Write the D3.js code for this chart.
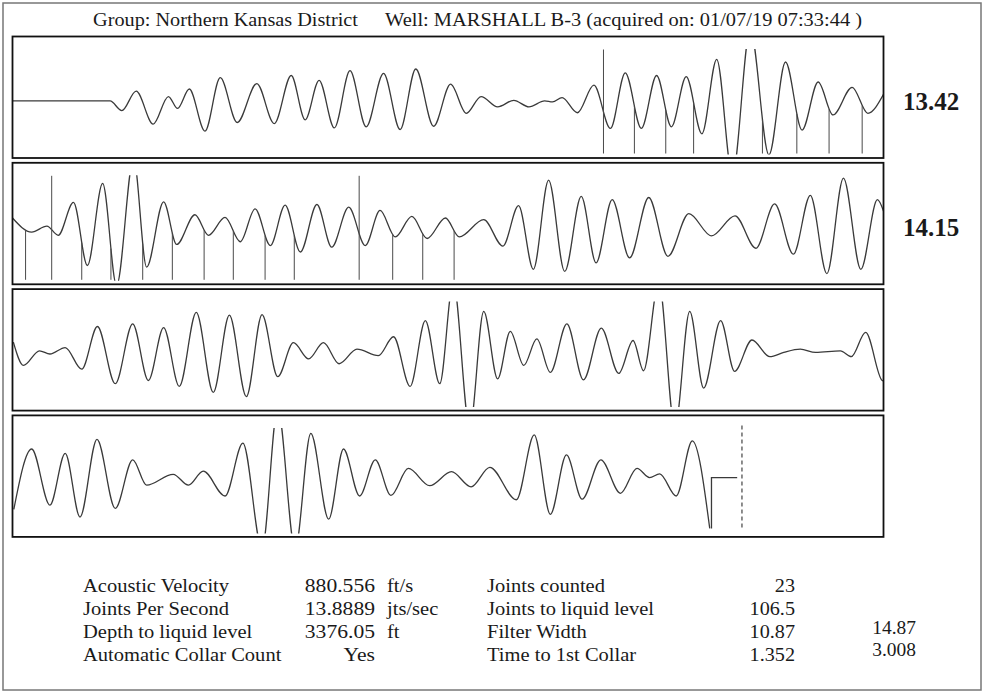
<!DOCTYPE html>
<html>
<head>
<meta charset="utf-8">
<script src="https://cdn.jsdelivr.net/npm/d3@7/dist/d3.min.js"></script>
<style>
    body { margin: 0; background: #fff; }
    svg { display: block; }
    text { font-family: "Liberation Serif", "Times New Roman", serif; fill: #1a1a1a; }
</style>
</head>
<body>
<script>
// header
var headerParts = ["Group: Northern Kansas District", "Well: MARSHALL B-3 (acquired on: 01/07/19 07:33:44 )"];

// rate labels shown right of the first two panels
var panelRates = ["13.42", "14.15"];

// wave traces, [time (s), amplitude] -- one panel = 2 seconds
var wave1 = [[0, 0.03], [0.224, 0.03], [0.251, -0.15], [0.284, 0.21], [0.323, -0.40], [0.358, 0.11], [0.379, -0.11],
    [0.406, 0.25], [0.442, -0.53], [0.477, 0.46], [0.516, -0.37], [0.561, 0.35], [0.601, -0.39], [0.640, 0.50],
    [0.672, -0.32], [0.704, 0.41], [0.739, -0.47], [0.775, 0.59], [0.812, -0.45], [0.852, 0.54], [0.890, -0.50],
    [0.926, 0.62], [0.967, -0.44], [1.006, 0.34], [1.042, -0.20], [1.076, 0.11], [1.114, -0.08], [1.151, 0.04],
    [1.186, -0.08], [1.222, 0.03], [1.240, 0.01], [1.262, 0.09], [1.297, -0.19], [1.335, 0.32], [1.373, -0.48],
    [1.407, 0.55], [1.444, -0.48], [1.479, 0.50], [1.513, -0.45], [1.547, 0.48], [1.583, -0.58], [1.617, 0.80],
    [1.653, -1.35], [1.694, 1.35], [1.737, -0.97], [1.775, 0.75], [1.813, -0.51], [1.850, 0.38], [1.884, -0.23],
    [1.928, 0.28], [1.964, -0.20], [2.0, 0.15]];

var wave2 = [[2.0, 0.20], [2.044, -0.06], [2.079, 0.05], [2.105, -0.12], [2.140, 0.49], [2.172, -0.68], [2.207, 0.84],
    [2.239, -1.05], [2.278, 1.30], [2.308, -0.71], [2.347, 0.50], [2.377, -0.29], [2.419, 0.26], [2.450, -0.12],
    [2.488, 0.21], [2.523, -0.24], [2.557, 0.37], [2.592, -0.31], [2.626, 0.44], [2.661, -0.43], [2.699, 0.45],
    [2.733, -0.34], [2.772, 0.40], [2.810, -0.31], [2.844, 0.34], [2.879, -0.15], [2.917, 0.23], [2.952, -0.18],
    [2.994, 0.20], [3.026, -0.15], [3.082, 0.17], [3.126, -0.32], [3.162, 0.43], [3.196, -0.75], [3.231, 0.90],
    [3.268, -0.79], [3.306, 0.60], [3.340, -0.63], [3.377, 0.54], [3.417, -0.54], [3.461, 0.58], [3.505, -0.51],
    [3.553, 0.28], [3.605, -0.13], [3.659, 0.24], [3.707, -0.36], [3.750, 0.46], [3.793, -0.47], [3.832, 0.62],
    [3.870, -0.83], [3.908, 0.94], [3.948, -0.75], [3.986, 0.54], [4.0, 0.33]];

var wave3 = [[4.002, 0.24], [4.025, -0.19], [4.062, 0.08], [4.086, 0.02], [4.121, 0.14], [4.159, -0.26], [4.195, 0.53],
    [4.236, -0.53], [4.276, 0.58], [4.312, -0.47], [4.347, 0.51], [4.383, -0.58], [4.422, 0.79], [4.461, -0.69],
    [4.498, 0.74], [4.537, -0.77], [4.573, 0.75], [4.609, -0.40], [4.645, 0.23], [4.680, -0.07], [4.714, 0.23],
    [4.750, -0.16], [4.791, 0.11], [4.840, -0.01], [4.875, 0.34], [4.913, -0.58], [4.948, 0.64], [4.981, -0.53],
    [5.012, 1.35], [5.050, -1.35], [5.082, 0.81], [5.114, -0.44], [5.143, 0.44], [5.174, -0.19], [5.204, 0.30],
    [5.235, -0.32], [5.273, 0.58], [5.311, -0.46], [5.352, 0.50], [5.392, -0.34], [5.425, 0.27], [5.449, -0.29],
    [5.484, 1.35], [5.521, -1.35], [5.555, 0.81], [5.587, -0.61], [5.626, 0.64], [5.658, -0.30], [5.698, 0.28],
    [5.739, -0.03], [5.771, 0.05], [5.809, 0.11], [5.844, 0.05], [5.901, 0.08], [5.926, -0.03], [5.959, 0.42],
    [5.997, -0.47], [6.0, -0.48]];

var wave4 = [[6.003, -0.52], [6.044, 0.60], [6.086, -0.44], [6.121, 0.52], [6.155, -0.66], [6.194, 0.78], [6.236, -0.50],
    [6.276, 0.40], [6.308, -0.07], [6.369, 0.13], [6.404, -0.07], [6.438, 0.19], [6.488, -0.27], [6.529, 0.71],
    [6.573, -1.25], [6.609, 1.35], [6.649, -1.25], [6.685, 0.89], [6.726, -0.70], [6.760, 0.60], [6.797, -0.27],
    [6.833, 0.40], [6.869, -0.26], [6.909, 0.24], [6.958, -0.08], [7.008, 0.18], [7.053, -0.10], [7.096, 0.26],
    [7.157, -0.34], [7.198, 0.86], [7.235, -0.61], [7.272, 0.49], [7.308, -0.33], [7.351, 0.40], [7.396, -0.22],
    [7.434, 0.24], [7.463, 0.07], [7.486, 0.14], [7.524, -0.27], [7.561, 0.75], [7.601, -0.87]];

// end-of-trace step marker and liquid level (s)
var endStep = [[7.605, -0.87], [7.605, 0.07], [7.664, 0.07]];
var liquidLevelTime = 7.675;

// detected collars (s); tall = marker spans the whole trace area
var collarTimes = [1.357, 1.428, 1.500, 1.564, 1.643, 1.722, 1.801, 1.875, 1.951,
    2.030, 2.090, 2.159, 2.226, 2.299, 2.367, 2.440, 2.507, 2.580, 2.647, 2.796, 2.873, 2.942, 3.014];
var collarTall = [1, 0, 0, 0, 0, 0, 0, 0, 0,
    0, 1, 0, 0, 0, 0, 0, 0, 0, 0, 1, 0, 0, 0];

// summary table
var leftLabels = ["Acoustic Velocity", "Joints Per Second", "Depth to liquid level", "Automatic Collar Count"];
var leftValues = ["880.556", "13.8889", "3376.05", "Yes"];
var leftUnits = ["ft/s", "jts/sec", "ft", ""];
var rightLabels = ["Joints counted", "Joints to liquid level", "Filter Width", "Time to 1st Collar"];
var rightValues = ["23", "106.5", "10.87", "1.352"];
var extraValues = ["", "", "14.87", "3.008"];

var waves = [wave1, wave2, wave3, wave4];

// y of a path at screen x (trace is monotone in x), by bisecting on length
function pathYAt(node, px) {
    var lo = 0, hi = node.getTotalLength();
    for (var k = 0; k < 30; k++) {
        var mid = (lo + hi) / 2;
        if (node.getPointAtLength(mid).x < px) lo = mid; else hi = mid;
    }
    return node.getPointAtLength(lo).y;
}

function drawChart() {
    var w = 984, h = 697;
    var panel = {left: 12.5, right: 883.5, top: 36.5, pitch: 126.3, height: 121.5, clipTop: 12.5, clipBottom: 118};
    var secondsPerPanel = 2;

    var svg = d3.select("body").append("svg")
        .attr("width", w)
        .attr("height", h);

    // outer frame
    svg.append("rect")
        .attr("x", 3).attr("y", 3)
        .attr("width", 978).attr("height", 687)
        .attr("fill", "none")
        .attr("stroke", "#777")
        .attr("stroke-width", 1.5);

    // header
    var headerX = [93, 385], headerW = [265, 477];
    svg.selectAll(".header")
        .data(headerParts)
        .enter()
        .append("text")
        .classed("header", true)
        .attr("x", function (d, i) { return headerX[i]; })
        .attr("y", 26)
        .attr("font-size", 18.5)
        .attr("textLength", function (d, i) { return headerW[i]; })
        .attr("lengthAdjust", "spacingAndGlyphs")
        .text(function (d) { return d; });

    for (var i = 0; i < 4; i++) {
        var top = panel.top + i * panel.pitch;
        var x = d3.scaleLinear()
            .domain([i * secondsPerPanel, (i + 1) * secondsPerPanel])
            .range([panel.left, panel.right]);
        var y = d3.scaleLinear()
            .domain([-1, 1])
            .range([top + 120, top + 12]);
        var line = d3.line()
            .x(function (d) { return x(d[0]); })
            .y(function (d) { return y(d[1]); })
            .curve(d3.curveMonotoneX);

        var g = svg.append("g").classed("panel", true);

        g.append("clipPath")
            .attr("id", "clip" + i)
            .append("rect")
            .attr("x", panel.left)
            .attr("y", top + panel.clipTop)
            .attr("width", panel.right - panel.left)
            .attr("height", panel.clipBottom - panel.clipTop);

        var trace = g.append("path")
            .datum(waves[i])
            .attr("d", line)
            .attr("clip-path", "url(#clip" + i + ")")
            .attr("fill", "none")
            .attr("stroke", "#3a3a3a")
            .attr("stroke-width", 1.3);

        var node = trace.node();
        var yBottom = top + panel.clipBottom - 1;
        var tMin = i * secondsPerPanel, tMax = (i + 1) * secondsPerPanel;
        var marks = collarTimes.map(function (t, k) { return {t: t, tall: collarTall[k]}; })
            .filter(function (c) { return c.t >= tMin && c.t < tMax; });

        g.selectAll(".collar")
            .data(marks)
            .enter()
            .append("line")
            .classed("collar", true)
            .attr("x1", function (c) { return x(c.t); })
            .attr("x2", function (c) { return x(c.t); })
            .attr("y1", function (c) {
                if (c.tall) return top + panel.clipTop + 0.5;
                return Math.max(top + panel.clipTop, pathYAt(node, x(c.t)));
            })
            .attr("y2", yBottom)
            .attr("stroke", "#4a4a4a")
            .attr("stroke-width", 1);

        if (i === 3) {
            g.append("path")
                .datum(endStep)
                .attr("d", d3.line().x(function (d) { return x(d[0]); }).y(function (d) { return y(d[1]); }))
                .attr("fill", "none")
                .attr("stroke", "#3a3a3a")
                .attr("stroke-width", 1.3);
            g.append("line")
                .attr("x1", x(liquidLevelTime)).attr("x2", x(liquidLevelTime))
                .attr("y1", top + 10).attr("y2", top + 113)
                .attr("stroke", "#444")
                .attr("stroke-width", 1.2)
                .attr("stroke-dasharray", "4,3");
        }

        // panel box
        g.append("rect")
            .attr("x", panel.left).attr("y", top)
            .attr("width", panel.right - panel.left)
            .attr("height", panel.height)
            .attr("fill", "none")
            .attr("stroke", "#111")
            .attr("stroke-width", 1.8);

        if (i < panelRates.length) {
            g.append("text")
                .attr("x", 903)
                .attr("y", top + 73.5)
                .attr("font-size", 25)
                .attr("font-weight", "bold")
                .text(panelRates[i]);
        }
    }

    // summary table -- the printed face is a little wider than Liberation Serif
    var rowY = [592, 615, 638, 661];
    var extraY = [0, 0, 634, 656];
    var table = svg.append("g").classed("summary", true);

    function column(data, xPos, anchor, stretch, ys) {
        table.selectAll(null)
            .data(data)
            .enter()
            .append("text")
            .attr("x", xPos)
            .attr("y", function (d, k) { return (ys || rowY)[k]; })
            .attr("text-anchor", anchor)
            .attr("font-size", 18)
            .text(function (d) { return d; })
            .each(function (d) {
                if (!d) return;
                var el = d3.select(this);
                el.attr("textLength", this.getComputedTextLength() * stretch)
                    .attr("lengthAdjust", "spacingAndGlyphs");
            });
    }

    column(leftLabels, 83, "start", 1.14);
    column(leftValues, 375, "end", 1.2);
    column(leftUnits, 387, "start", 1.14);
    column(rightLabels, 487, "start", 1.14);
    column(rightValues, 795, "end", 1.12);
    column(extraValues, 916, "end", 1.08, extraY);
}

drawChart();
</script>
</body>
</html>
